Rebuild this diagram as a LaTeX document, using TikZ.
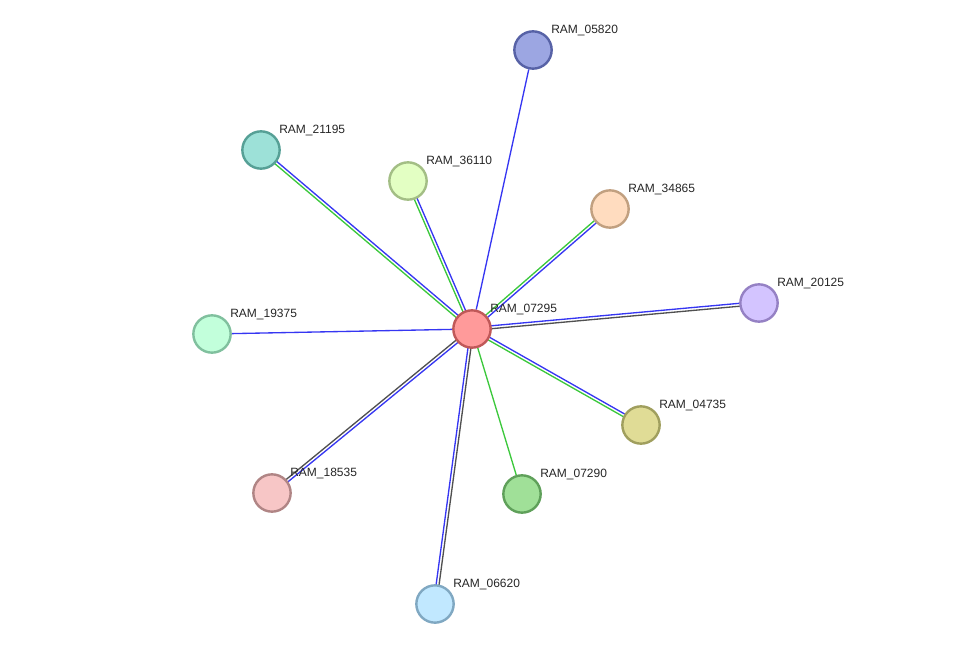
\documentclass[tikz,border=0pt]{standalone}
\usepackage{fontspec}
\setmainfont{Liberation Sans}
\usetikzlibrary{calc,backgrounds}

\definecolor{eblue}{HTML}{3636F2}
\definecolor{egreen}{HTML}{3CC83C}
\definecolor{egray}{HTML}{505050}
\definecolor{c07295}{HTML}{FF9A9A}\definecolor{d07295}{HTML}{C05858}
\definecolor{c05820}{HTML}{9CA6E2}\definecolor{d05820}{HTML}{5762A6}
\definecolor{c21195}{HTML}{9DE1D8}\definecolor{d21195}{HTML}{56A096}
\definecolor{c36110}{HTML}{E3FFC3}\definecolor{d36110}{HTML}{A3BE85}
\definecolor{c34865}{HTML}{FFDCBF}\definecolor{d34865}{HTML}{C1A080}
\definecolor{c20125}{HTML}{D3C4FF}\definecolor{d20125}{HTML}{9581C4}
\definecolor{c19375}{HTML}{C2FFDB}\definecolor{d19375}{HTML}{80C09E}
\definecolor{c04735}{HTML}{E0DC96}\definecolor{d04735}{HTML}{A09F5E}
\definecolor{c07290}{HTML}{A0E098}\definecolor{d07290}{HTML}{5FA05A}
\definecolor{c18535}{HTML}{F7C6C6}\definecolor{d18535}{HTML}{B08585}
\definecolor{c06620}{HTML}{C1E8FF}\definecolor{d06620}{HTML}{80A8C2}

\tikzset{
  prot/.style={circle,minimum size=28pt,inner sep=0pt,line width=1.8pt},
  lbl/.style={font=\fontsize{9}{10}\selectfont,text=black!85,inner sep=3pt,yshift=-3pt},
  link/.style={line width=1pt},
}

% two parallel links between the hub and one partner
\newcommand\twin[3]{%
  \draw[link,#2] ($(r07295)!1.1pt!90:(#1)$) -- ($(#1)!1.1pt!-90:(r07295)$);
  \draw[link,#3] ($(r07295)!1.1pt!-90:(#1)$) -- ($(#1)!1.1pt!90:(r07295)$);}

\begin{document}
\begin{tikzpicture}[x=0.75pt,y=-0.75pt]
  \useasboundingbox (0,0) rectangle (975,649);
  \foreach \id/\x/\y in {07295/472/329,05820/533/50,21195/261/150,36110/408/181,
      34865/610/209,20125/759/303,19375/212/334,04735/641/425,07290/522/494,
      18535/272/493,06620/435/604} {
    \node[prot,fill=c\id,draw=d\id,label={[lbl]above right:RAM\_\id}] (r\id) at (\x,\y) {};
  }
  \begin{pgfonlayer}{background}
    \draw[link,eblue] (r07295) -- (r05820);
    \draw[link,eblue] (r07295) -- (r19375);
    \draw[link,egreen] (r07295) -- (r07290);
    \twin{r21195}{egreen}{eblue}
    \twin{r36110}{egreen}{eblue}
    \twin{r34865}{egreen}{eblue}
    \twin{r20125}{eblue}{egray}
    \twin{r04735}{eblue}{egreen}
    \twin{r06620}{egray}{eblue}
    \twin{r18535}{eblue}{egray}
  \end{pgfonlayer}
\end{tikzpicture}
\end{document}
